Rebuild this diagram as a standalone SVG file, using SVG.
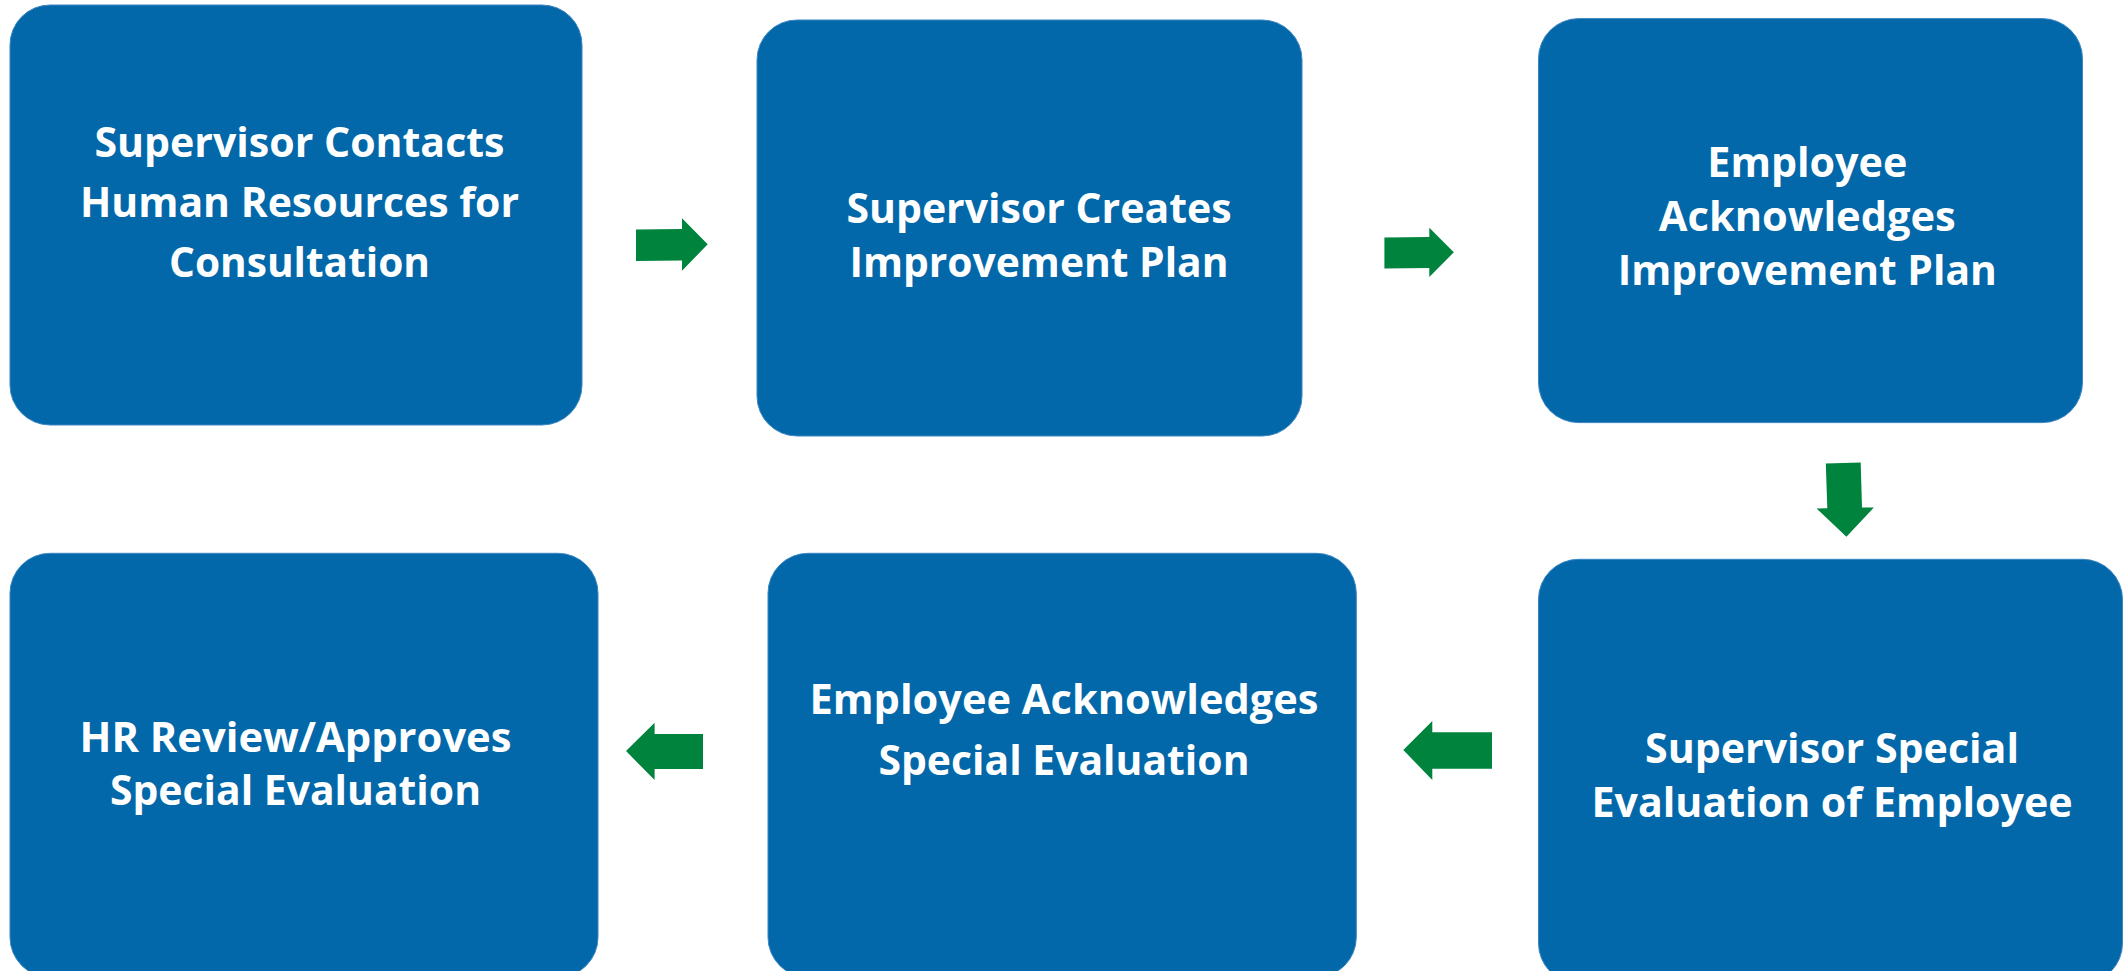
<svg xmlns="http://www.w3.org/2000/svg" width="2123" height="971" viewBox="0 0 2123 971">
  <style>
    .box { fill: #0368A9; stroke: #3A86C2; stroke-width: 1; }
    .lbl { font-family: "Open Sans", "Liberation Sans", sans-serif; font-weight: bold; font-size: 42px; fill: #ffffff; text-anchor: middle; }
    .arrow { fill: #00843D; }
  </style>
  <rect width="2123" height="971" fill="#ffffff"/>

  <g id="node-contact-hr">
    <rect class="box" x="10" y="5" width="572" height="420" rx="40" ry="40"/>
    <text class="lbl" x="299.5" y="156.7" textLength="410" lengthAdjust="spacingAndGlyphs">Supervisor Contacts</text>
    <text class="lbl" x="299.5" y="216.7" textLength="439" lengthAdjust="spacingAndGlyphs">Human Resources for</text>
    <text class="lbl" x="299.5" y="276.7" textLength="261" lengthAdjust="spacingAndGlyphs">Consultation</text>
  </g>

  <g id="node-create-plan">
    <rect class="box" x="757" y="20" width="545" height="416" rx="40" ry="40"/>
    <text class="lbl" x="1039" y="222.7" textLength="385" lengthAdjust="spacingAndGlyphs">Supervisor Creates</text>
    <text class="lbl" x="1039" y="276.7" textLength="379" lengthAdjust="spacingAndGlyphs">Improvement Plan</text>
  </g>

  <g id="node-ack-plan">
    <rect class="box" x="1538.5" y="18.6" width="544" height="404" rx="40" ry="40"/>
    <text class="lbl" x="1807.3" y="177.1" textLength="200" lengthAdjust="spacingAndGlyphs">Employee</text>
    <text class="lbl" x="1807.3" y="231.4" textLength="297" lengthAdjust="spacingAndGlyphs">Acknowledges</text>
    <text class="lbl" x="1807.3" y="284.6" textLength="379" lengthAdjust="spacingAndGlyphs">Improvement Plan</text>
  </g>

  <g id="node-special-eval">
    <rect class="box" x="1538.5" y="559.3" width="584" height="424" rx="40" ry="40"/>
    <text class="lbl" x="1832" y="763.3" textLength="374" lengthAdjust="spacingAndGlyphs">Supervisor Special</text>
    <text class="lbl" x="1832" y="817.3" textLength="481" lengthAdjust="spacingAndGlyphs">Evaluation of Employee</text>
  </g>

  <g id="node-ack-eval">
    <rect class="box" x="768" y="553.3" width="588.3" height="424" rx="40" ry="40"/>
    <text class="lbl" x="1064" y="714.3" textLength="509" lengthAdjust="spacingAndGlyphs">Employee Acknowledges</text>
    <text class="lbl" x="1064" y="775" textLength="371" lengthAdjust="spacingAndGlyphs">Special Evaluation</text>
  </g>

  <g id="node-hr-approves">
    <rect class="box" x="10" y="553.3" width="588" height="424" rx="40" ry="40"/>
    <text class="lbl" x="295.5" y="751.7" textLength="432" lengthAdjust="spacingAndGlyphs">HR Review/Approves</text>
    <text class="lbl" x="295.5" y="805" textLength="371" lengthAdjust="spacingAndGlyphs">Special Evaluation</text>
  </g>

  <g id="connectors">
    <!-- right: contact HR -> create plan -->
    <polygon class="arrow" points="636,229.5 682,229 682,218.3 707.7,244.3 682,270.7 682,260.5 636,261"/>
    <!-- right: create plan -> acknowledge plan -->
    <polygon class="arrow" points="1384.4,237.5 1429.3,237 1429.3,227.7 1453.8,252.3 1429.3,277 1429.3,268 1384.4,268.5"/>
    <!-- down: acknowledge plan -> special evaluation -->
    <polygon class="arrow" points="1825.8,463.5 1860.7,462.5 1862,507.5 1873.9,507.5 1846.4,536.8 1816.6,508.5 1827.3,508.2"/>
    <!-- left: special evaluation -> acknowledge evaluation -->
    <polygon class="arrow" points="1492,732.3 1432.3,732.3 1432.3,721 1403.3,750 1432.3,780 1432.3,768.7 1492,768.7"/>
    <!-- left: acknowledge evaluation -> HR approves -->
    <polygon class="arrow" points="703,734 654.6,734 654.6,722.7 626,751 654.6,780 654.6,769 703,769"/>
  </g>
</svg>
